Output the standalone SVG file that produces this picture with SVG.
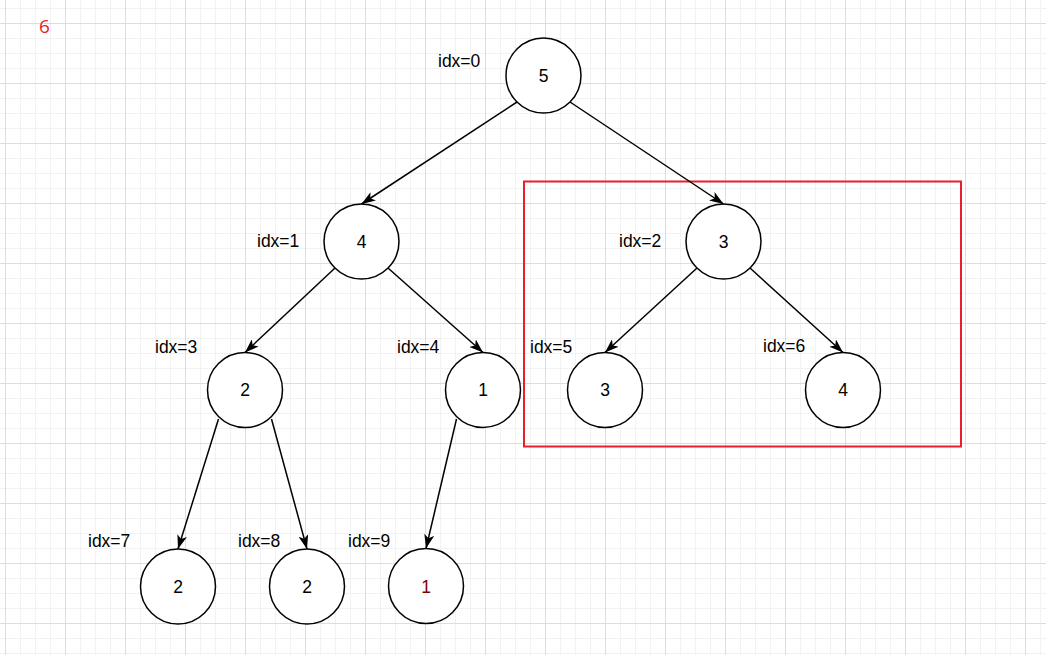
<svg xmlns="http://www.w3.org/2000/svg" width="1046" height="655" viewBox="0 0 1046 655">
<style>
.node{fill:#ffffff;stroke:#000000;stroke-width:1.5}
.val{font-family:"Liberation Sans",Arial,sans-serif;font-size:17.5px;fill:#000000;text-anchor:middle}
.lbl{font-family:"Liberation Sans",Arial,sans-serif;font-size:17.5px;fill:#000000}
.edge{fill:none;stroke:#000000;stroke-width:1.5;marker-end:url(#arrow)}
</style>
<defs>
<pattern id="grid" patternUnits="userSpaceOnUse" x="5" y="23" width="60" height="60">
<rect x="0" y="0" width="60" height="60" fill="#ffffff"/>
<rect x="15" y="0" width="1" height="60" fill="#f2f2f2"/>
<rect x="30" y="0" width="1" height="60" fill="#f2f2f2"/>
<rect x="45" y="0" width="1" height="60" fill="#f2f2f2"/>
<rect x="0" y="15" width="60" height="1" fill="#f2f2f2"/>
<rect x="0" y="30" width="60" height="1" fill="#f2f2f2"/>
<rect x="0" y="45" width="60" height="1" fill="#f2f2f2"/>
<rect x="0" y="0" width="1" height="60" fill="#dddddd"/>
<rect x="0" y="0" width="60" height="1" fill="#dddddd"/>
</pattern>
<marker id="arrow" viewBox="0 0 14 10" markerWidth="14" markerHeight="10" refX="14" refY="5" orient="auto" markerUnits="userSpaceOnUse">
<path d="M0,0 L14,5 L0,10 L3.5,5 Z" fill="#000000"/>
</marker>
</defs>
<rect x="0" y="0" width="1046" height="655" fill="url(#grid)"/>
<text x="39" y="33" font-family="'Open Sans','Liberation Sans',sans-serif" font-size="19" fill="#e8202a">6</text>
<rect id="highlight" x="524" y="181.5" width="437" height="265" fill="none" stroke="#e8202a" stroke-width="2"/>
<g id="connectors">
<line class="edge" x1="517" y1="102" x2="361.5" y2="204"/>
<line class="edge" x1="570" y1="102" x2="723.5" y2="204"/>
<line class="edge" x1="335" y1="268" x2="245" y2="352.5"/>
<line class="edge" x1="388" y1="268" x2="483" y2="352.5"/>
<line class="edge" x1="697" y1="268" x2="605" y2="352.5"/>
<line class="edge" x1="750" y1="268" x2="843" y2="352.5"/>
<line class="edge" x1="218.5" y1="419" x2="178" y2="549"/>
<line class="edge" x1="271.5" y1="419" x2="307" y2="549"/>
<line class="edge" x1="456.5" y1="419" x2="426" y2="548.5"/>
</g>
<g id="node0"><circle class="node" cx="543.5" cy="75.5" r="37.5"/><text class="val" x="543.5" y="82">5</text><text class="lbl" x="438" y="67">idx=0</text></g>
<g id="node1"><circle class="node" cx="361.5" cy="241.5" r="37.5"/><text class="val" x="361.5" y="248">4</text><text class="lbl" x="257" y="247">idx=1</text></g>
<g id="node2"><circle class="node" cx="723.5" cy="241.5" r="37.5"/><text class="val" x="723.5" y="248">3</text><text class="lbl" x="619" y="247">idx=2</text></g>
<g id="node3"><circle class="node" cx="245" cy="390" r="37.5"/><text class="val" x="245" y="396">2</text><text class="lbl" x="155" y="353">idx=3</text></g>
<g id="node4"><circle class="node" cx="483" cy="390" r="37.5"/><text class="val" x="483" y="396">1</text><text class="lbl" x="397" y="353">idx=4</text></g>
<g id="node5"><circle class="node" cx="605" cy="390" r="37.5"/><text class="val" x="605" y="396">3</text><text class="lbl" x="530" y="353">idx=5</text></g>
<g id="node6"><circle class="node" cx="843" cy="390" r="37.5"/><text class="val" x="843" y="396">4</text><text class="lbl" x="763" y="352">idx=6</text></g>
<g id="node7"><circle class="node" cx="178" cy="586.5" r="37.5"/><text class="val" x="178" y="593">2</text><text class="lbl" x="88" y="547">idx=7</text></g>
<g id="node8"><circle class="node" cx="307" cy="586.5" r="37.5"/><text class="val" x="307" y="593">2</text><text class="lbl" x="238" y="547">idx=8</text></g>
<g id="node9"><circle class="node" cx="426" cy="586" r="37.5"/><text class="val" x="426" y="592.5" style="fill:#800000">1</text><text class="lbl" x="348" y="547">idx=9</text></g>
</svg>
